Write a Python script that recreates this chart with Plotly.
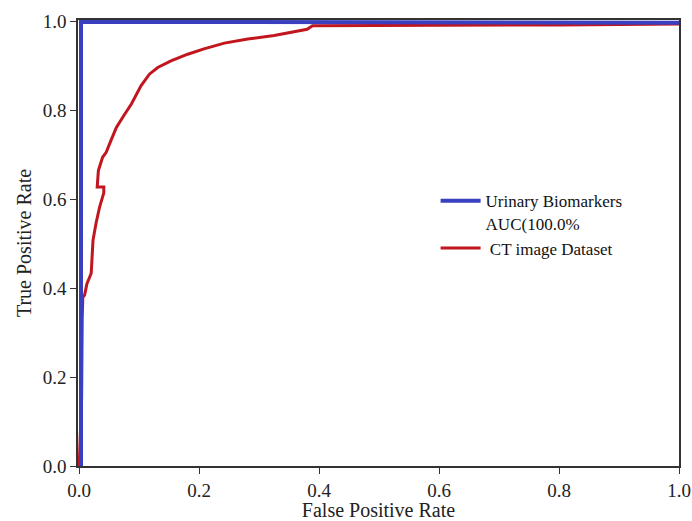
import plotly.graph_objects as go

# Urinary Biomarkers ROC
fpr_uri = [0.0, 0.003, 0.003, 0.25, 0.25, 1.0]
tpr_uri = [0.0, 0.0, 1.0, 1.0, 0.998, 0.998]

# CT image Dataset ROC
fpr_ct = [0.0, 0.004, 0.005, 0.006, 0.009, 0.0128, 0.02, 0.021, 0.023, 0.028, 0.034, 0.041,
          0.041, 0.030, 0.032, 0.039, 0.045, 0.053, 0.062, 0.075, 0.087, 0.103, 0.117,
          0.131, 0.153, 0.181, 0.208, 0.242, 0.281, 0.325, 0.353, 0.38, 0.389, 0.469,
          0.6, 0.8, 1.0]
tpr_ct = [0.0, 0.15, 0.33, 0.38, 0.385, 0.41, 0.434, 0.47, 0.508, 0.546, 0.583, 0.615,
          0.628, 0.628, 0.665, 0.695, 0.706, 0.733, 0.762, 0.79, 0.815, 0.856, 0.882,
          0.897, 0.912, 0.927, 0.939, 0.952, 0.961, 0.969, 0.976, 0.983, 0.991, 0.991,
          0.992, 0.993, 0.995]

x_ticks = [0.0, 0.2, 0.4, 0.6, 0.8, 1.0]
y_ticks = [0.0, 0.2, 0.4, 0.6, 0.8, 1.0]

fig = go.Figure()
fig.add_trace(go.Scatter(x=fpr_ct, y=tpr_ct, mode="lines",
                         line=dict(color="#c2161e", width=3),
                         name=" CT image Dataset"))
fig.add_trace(go.Scatter(x=fpr_uri, y=tpr_uri, mode="lines",
                         line=dict(color="#3a3fc0", width=4),
                         name="Urinary Biomarkers<br>AUC(100.0%"))

serif = "Liberation Serif, Times New Roman, serif"
axis_common = dict(showgrid=False, zeroline=False, showline=True, linecolor="#333333",
                   linewidth=1.5, mirror=True, ticks="outside", ticklen=6, tickwidth=1.2,
                   tickcolor="#333333", tickformat=".1f", automargin=False,
                   tickfont=dict(family=serif, size=19, color="#222222"))
fig.update_layout(
    width=692, height=521,
    margin=dict(l=78, r=13, t=20, b=55),
    plot_bgcolor="white", paper_bgcolor="white",
    xaxis=dict(range=[-0.002, 1.0], tickvals=x_ticks,
               title=dict(text="False Positive Rate", font=dict(family=serif, size=20, color="#222222"), standoff=2),
               **axis_common),
    yaxis=dict(range=[0.0, 1.004], tickvals=y_ticks,
               title=dict(text="True Positive Rate", font=dict(family=serif, size=20, color="#222222"), standoff=6),
               **axis_common),
    legend=dict(x=0.595, y=0.634, xanchor="left", yanchor="top", traceorder="reversed",
                valign="top", bgcolor="rgba(0,0,0,0)",
                font=dict(family=serif, size=17, color="#111111"), itemwidth=40,
                tracegroupgap=0),
    showlegend=True,
)
fig.write_html("out.html", config={"displayModeBar": False})

# remove the browser's default page margin so the figure sits at the top-left corner
with open("out.html", "r", encoding="utf-8") as f:
    html = f.read()
html = html.replace("<head>", "<head><style>html,body{margin:0;padding:0;}</style>", 1)
with open("out.html", "w", encoding="utf-8") as f:
    f.write(html)
